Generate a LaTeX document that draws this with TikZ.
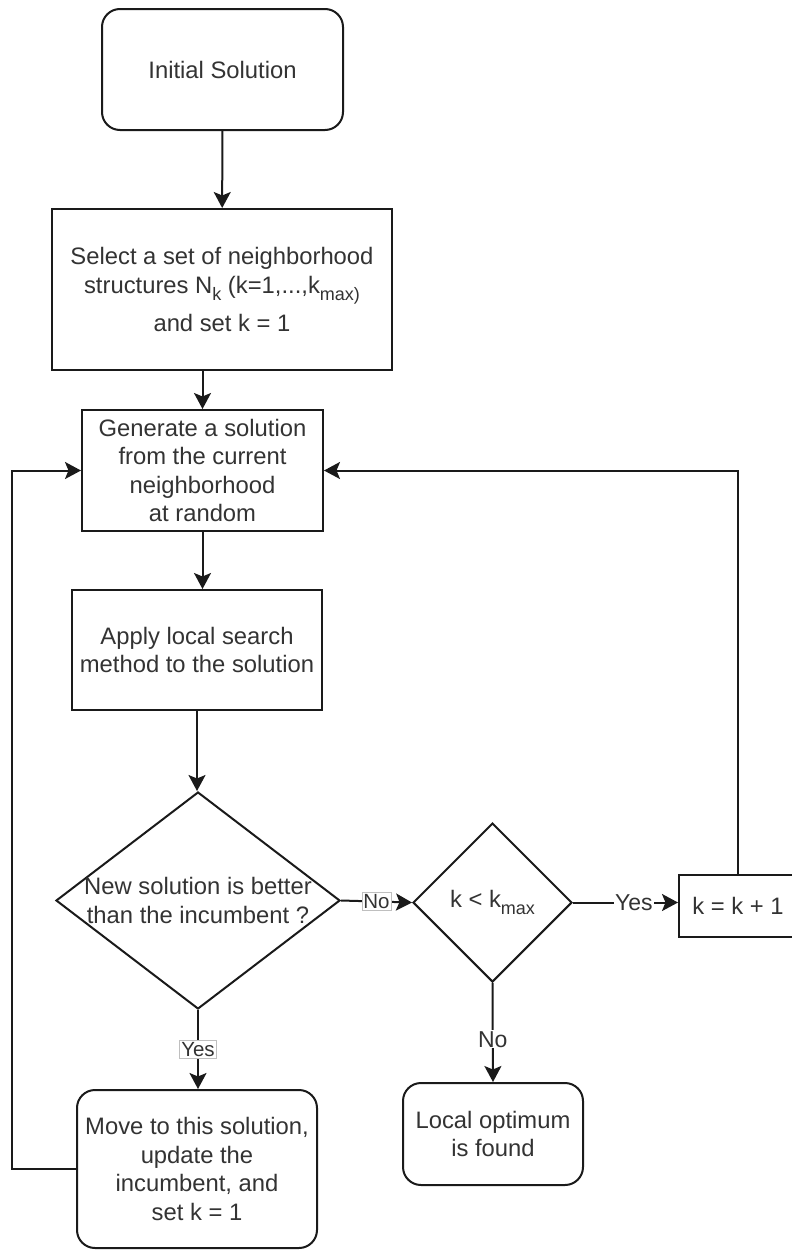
\documentclass[tikz,border=0pt]{standalone}
\usepackage{fontspec}
\setmainfont{Liberation Sans}
\usetikzlibrary{shapes.geometric,arrows.meta}
\definecolor{txtc}{HTML}{333333}
\definecolor{linec}{HTML}{1A1A1A}
\newcommand\sbs[1]{\raisebox{-0.3em}{\fontsize{18}{18}\selectfont #1}}
\begin{document}
\begin{tikzpicture}[x=1pt,y=-1pt,
  every node/.style={font=\fontsize{23.8}{28.6}\selectfont, text=txtc},
  box/.style={draw=linec, line width=2pt, fill=white, inner sep=0pt, align=center},
  rbox/.style={box, rounded corners=18pt},
  dia/.style={draw=linec, line width=2pt, diamond, inner sep=0pt, fill=white},
  conn/.style={draw=linec, line width=2pt, -{Stealth[length=16pt,width=17pt,inset=3.5pt]}},
  lbl/.style={fill=white, inner sep=1pt, font=\fontsize{23}{23}\selectfont},
  blbl/.style={fill=white, draw=gray!50, line width=0.8pt, inner sep=1.5pt, font=\fontsize{20.5}{20.5}\selectfont},
]
\useasboundingbox (0,0) rectangle (792,1250);
\clip (0,0) rectangle (792,1250);

\node[rbox, minimum width=241, minimum height=121] (init) at (222.5,69.5) {Initial Solution};
\node[box, minimum width=340, minimum height=161] (sel) at (222,289.5)
  {Select a set of neighborhood\\ structures N\sbs{k} (k=1,...,k\sbs{max)}\\[10pt] and set k = 1};
\node[box, minimum width=241, minimum height=121] (gen) at (202.5,470.5)
  {Generate a solution\\from the current\\neighborhood\\at random};
\node[box, minimum width=250, minimum height=120] (app) at (197,650)
  {Apply local search\\method to the solution};
\node[dia, minimum width=284, minimum height=217] (d1) at (198,900.5) {};
\node[align=center] (d1t) at (d1.center) {New solution is better\\than the incumbent ?};
\node[dia, minimum width=159, minimum height=159] (d2) at (492.5,902.5) {};
\node (d2t) at (d2.center) {k < k\sbs{max}};
\node[box, minimum width=118, minimum height=62] (kb) at (738,906) {k = k + 1};
\node[rbox, minimum width=240, minimum height=158] (mv) at (197,1169)
  {Move to this solution,\\update the\\incumbent, and\\set k = 1};
\node[rbox, minimum width=180, minimum height=102] (loc) at (493,1134)
  {Local optimum\\is found};
\coordinate (lx) at (12,0);

\draw[conn] (init) -- (sel);
\draw[conn] (sel.south -| gen.north) -- (gen.north);
\draw[conn] (gen.south) -- (gen.south |- app.north);
\draw[conn] (app.south) -- (app.south |- d1.north);
\draw[conn] (d1.east) -- node[blbl]{No} (d2.west);
\draw[conn] (d2.east) -- node[lbl, pos=0.58]{Yes} (d2.east -| kb.west);
\draw[conn] (d2.south) -- node[lbl, pos=0.57]{No} (loc.north);
\draw[conn] (d1.south) -- node[blbl]{Yes} (d1.south |- mv.north);
\draw[conn] (kb.north) |- (gen.east);
\draw[conn] (mv.west) -- (mv.west -| lx) |- (gen.west);
\end{tikzpicture}
\end{document}
